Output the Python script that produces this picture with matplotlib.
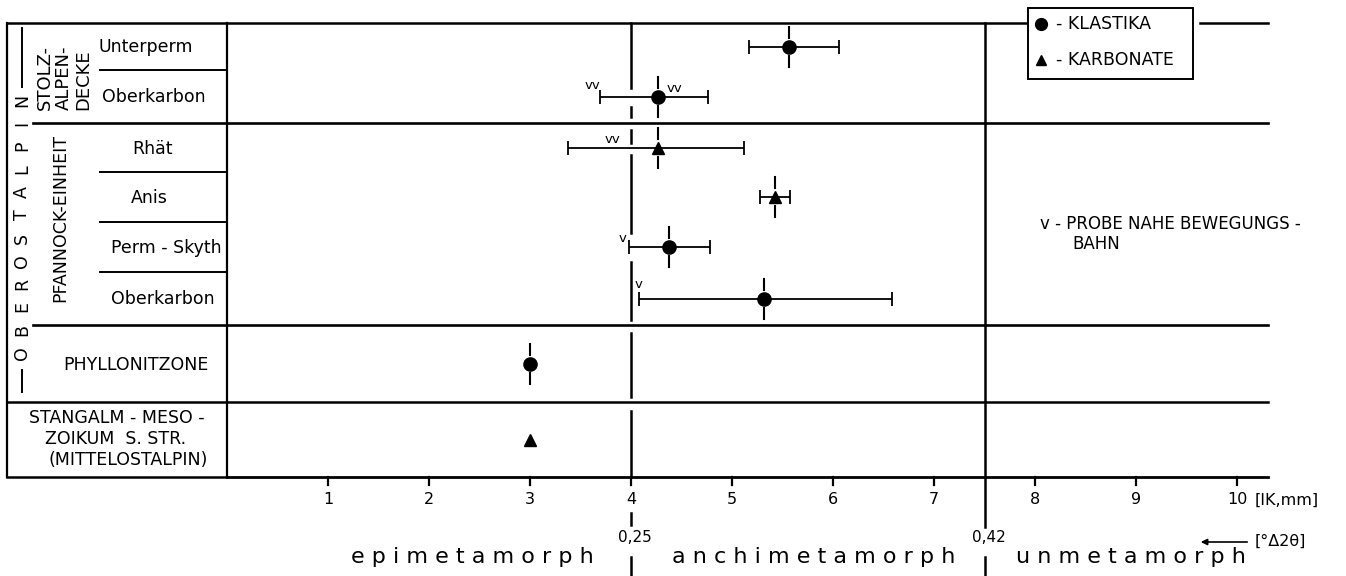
import numpy as np
import matplotlib
matplotlib.use("Agg")
import matplotlib.pyplot as plt
from matplotlib.patches import Rectangle

# Illit-Kristallinitaet je Einheit (IK in mm)
units = ["Unterperm", "Oberkarbon", "Rhät", "Anis", "Perm - Skyth", "Oberkarbon",
         "PHYLLONITZONE", "STANGALM - MESO -\nZOIKUM  S. STR.\n(MITTELOSTALPIN)"]
lithology = ["klastika", "klastika", "karbonate", "karbonate", "klastika", "klastika",
             "klastika", "karbonate"]
ik_mean = [5.56, 4.27, 4.27, 5.43, 4.38, 5.32, 3.00, 3.00]
ik_min = [5.17, 3.69, 3.38, 5.28, 3.98, 4.08, np.nan, np.nan]
ik_max = [6.06, 4.76, 5.12, 5.57, 4.78, 6.58, np.nan, np.nan]
has_spread = [True, True, True, True, True, True, True, False]

# Proben nahe Bewegungsbahn
near_rows = [1, 1, 2, 4, 5]
near_text = ["vv", "vv", "vv", "v", "v"]
near_ik = [3.62, 4.43, 3.82, 3.92, 4.07]
near_dy = [-11, -8, -8, -8, -14]

tick_vals = [1, 2, 3, 4, 5, 6, 7, 8, 9, 10]
zone_limits = [4.0, 7.5]
zone_hb = ["0,25", "0,42"]
zone_names = ["e p i m e t a m o r p h", "a n c h i m e t a m o r p h", "u n m e t a m o r p h"]
zone_name_x = [2.43, 5.81, 8.95]

# Layout (y in Pixel von oben)
row_edges = np.array([23, 70, 123, 172, 222, 272, 325, 402, 477])
row_y = (row_edges[:-1] + row_edges[1:]) / 2
X0, SCALE = 227, 101.0


def px(x):
    return (x - X0) / SCALE


plt.rcParams['font.family'] = ['DejaVu Sans']
fig = plt.figure(figsize=(13.46, 5.76), dpi=100)
ax = fig.add_axes([0, 0, 1, 1])
ax.set_xlim(px(0), px(1346))
ax.set_ylim(576, 0)
ax.axis("off")

K = "black"
XR = px(1268)

# Rahmen und Zeilen
ax.plot([px(7), px(7)], [23, 477], color=K, lw=1.6)
ax.plot([0, 0], [23, 477], color=K, lw=1.6)
ax.plot([px(7), px(1028)], [23, 23], color=K, lw=1.8)
ax.plot([px(1200), XR], [23, 23], color=K, lw=1.8)
for yy in [70, 172, 222, 272]:
    ax.plot([px(100), 0], [yy, yy], color=K, lw=1.4)
for yy in [123, 325]:
    ax.plot([px(33), XR], [yy, yy], color=K, lw=1.9)
ax.plot([px(7), XR], [402, 402], color=K, lw=1.8)
ax.plot([px(7), 0], [477, 477], color=K, lw=1.8)

# x-Achse
ax.plot([0, XR], [477, 477], color=K, lw=2.0)
for t in tick_vals:
    ax.plot([t, t], [477, 485], color=K, lw=1.6)
    ax.text(t, 500, str(t), ha="center", va="center", fontsize=11.5)
ax.text(px(1255), 500, "[IK,mm]", ha="left", va="center", fontsize=11.5)

# Grenzen epi/anchi/unmetamorph
seg4 = [(23, 88), (107, 117), (130, 143), (155, 233), (262, 320), (333, 397),
        (411, 477), (513, 525), (557, 576)]
for a, b in seg4:
    ax.plot([zone_limits[0]] * 2, [a, b], color=K, lw=1.8)
for a, b in [(23, 527), (557, 576)]:
    ax.plot([zone_limits[1]] * 2, [a, b], color=K, lw=1.8)
for xl, lab in zip(zone_limits, zone_hb):
    ax.text(xl + 0.04, 538, lab, ha="center", va="center", fontsize=11)
for xn, name in zip(zone_name_x, zone_names):
    ax.text(xn, 557, name, ha="center", va="center", fontsize=16)
ax.annotate("", xy=(px(1198), 542), xytext=(px(1250), 542),
            arrowprops=dict(arrowstyle="-|>", color=K, lw=1.2, mutation_scale=9))
ax.text(px(1255), 541, "[°Δ2θ]", ha="left", va="center", fontsize=11.5)

# Daten
for i in range(len(units)):
    y = row_y[i]
    m = "o" if lithology[i] == "klastika" else "^"
    ms = 9.5 if m == "o" else 8.5
    if not np.isnan(ik_min[i]):
        ax.errorbar(ik_mean[i], y, xerr=[[ik_mean[i] - ik_min[i]], [ik_max[i] - ik_mean[i]]],
                    fmt="none", ecolor=K, elinewidth=1.3, capsize=5, capthick=1.3)
    ax.plot(ik_mean[i], y, marker=m, color=K, ms=ms, zorder=4)
    if has_spread[i]:
        ax.plot([ik_mean[i]] * 2, [y - 20, y - 9], color=K, lw=1.5)
        ax.plot([ik_mean[i]] * 2, [y + 9, y + 20], color=K, lw=1.5)

for r, t, xv, dy in zip(near_rows, near_text, near_ik, near_dy):
    ax.text(xv, row_y[r] + dy, t, ha="center", va="center", fontsize=9.5)

# Zeilenbeschriftung
label_x = [98, 102, 152, 149, 166, 163, 136]
label_ha = ["left", "left", "center", "center", "center", "center", "center"]
for i, name in enumerate(units[:7]):
    ax.text(px(label_x[i]), row_y[i] + 1, name, ha=label_ha[i], va="center", fontsize=12.5)
for line, xx, yy in zip(units[7].split("\n"), [117, 116, 128], [418, 439, 460]):
    ax.text(px(xx), yy, line, ha="center", va="center", fontsize=12.5)

ax.text(px(60), 218, "PFANNOCK-EINHEIT", rotation=90, ha="center", va="center", fontsize=12.5)
for xx, word in zip([45, 64, 83], ["STOLZ-", "ALPEN-", "DECKE"]):
    ax.text(px(xx), 110, word, rotation=90, ha="center", va="bottom", fontsize=13)

for yy, ch in zip(np.linspace(353, 100, 12), "OBEROSTALPIN"):
    ax.text(px(22), yy, ch, rotation=90, ha="center", va="center", fontsize=12.5)
ax.plot([px(22)] * 2, [28, 87], color=K, lw=1.4)
ax.plot([px(22)] * 2, [370, 392], color=K, lw=1.4)

# Legende
ax.add_patch(Rectangle((px(1028), 8), px(1193) - px(1028), 71, fill=True,
                       facecolor="white", edgecolor=K, lw=1.4, zorder=5))
ax.plot(px(1041), 24, marker="o", color=K, ms=8.5, zorder=6)
ax.plot(px(1041), 60, marker="^", color=K, ms=7.5, zorder=6)
ax.text(px(1056), 24, "- KLASTIKA", ha="left", va="center", fontsize=12.5, zorder=6)
ax.text(px(1056), 60, "- KARBONATE", ha="left", va="center", fontsize=12.5, zorder=6)

ax.text(px(1040), 224, "v - PROBE NAHE BEWEGUNGS -", ha="left", va="center", fontsize=12)
ax.text(px(1072), 244, "BAHN", ha="left", va="center", fontsize=12)

fig.savefig("out.png", dpi=100, facecolor="white")
